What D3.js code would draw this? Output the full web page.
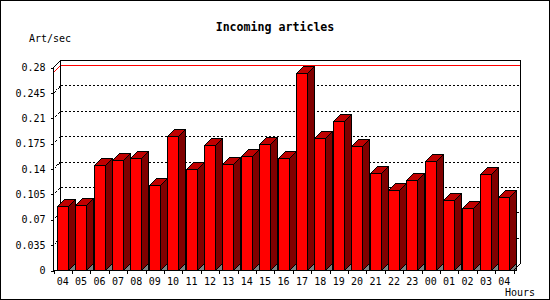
<!DOCTYPE html>
<html>
<head>
<meta charset="utf-8">
<script src="https://cdn.jsdelivr.net/npm/d3@7"></script>
<style>
  html, body { margin: 0; padding: 0; background: #fff; }
  svg { display: block; }
  text { font-family: "DejaVu Sans Mono", "Liberation Mono", monospace; }
</style>
</head>
<body>
<svg id="chart" width="550" height="300"></svg>
<script>
// ---- data ----
const hours = ["04","05","06","07","08","09","10","11","12","13","14","15","16","17","18","19","20","21","22","23","00","01","02","03","04"];
const values = [0.089,0.090,0.145,0.152,0.155,0.118,0.185,0.140,0.173,0.147,0.158,0.174,0.155,0.273,0.183,0.206,0.172,0.134,0.111,0.125,0.151,0.097,0.086,0.133,0.101];
const yTicks = [0,0.035,0.07,0.105,0.14,0.175,0.21,0.245,0.28];
const yTickLabels = ["0","0.035","0.07","0.105","0.14","0.175","0.21","0.245","0.28"];
const titleText = "Incoming articles";
const yTitle = "Art/sec";
const xTitle = "Hours";

// ---- layout ----
const W = 550, H = 300;
const DX = 7, DY = 7;
const svg = d3.select("#chart");

svg.append("rect").attr("x",0.5).attr("y",0.5).attr("width",W-1).attr("height",H-1)
  .attr("fill","#fff").attr("stroke","#000");

const x = d3.scaleBand().domain(d3.range(hours.length)).range([53.5, 513.5]);
const y = d3.scaleLinear().domain([0, 0.28]).range([270.5, 67.5]);
const bw = x.bandwidth();
const left = x.range()[0], right = x.range()[1];
const yTop = y(0.28), yZero = y(0);

const g = svg.append("g").attr("shape-rendering","crispEdges");

// gridlines on back wall (dotted)
const gridVals = yTicks.filter(v => v > 0 && v < 0.28);
g.selectAll("line.grid").data(gridVals).join("line")
  .attr("x1", left + DX).attr("x2", right + DX)
  .attr("y1", d => y(d) - DY).attr("y2", d => y(d) - DY)
  .attr("stroke","#000").attr("stroke-dasharray","2,2");
g.selectAll("line.gridd").data(gridVals).join("line")
  .attr("x1", left).attr("x2", left + DX)
  .attr("y1", d => y(d)).attr("y2", d => y(d) - DY)
  .attr("stroke","#000").attr("stroke-dasharray","1,1");

// max line (red)
const maxV = d3.max(values);
g.append("polyline")
  .attr("points", [[left, y(maxV)],[left+DX, y(maxV)-DY],[right+DX, y(maxV)-DY]].map(p=>p.join(",")).join(" "))
  .attr("fill","none").attr("stroke","#ff0000");

// back frame
g.append("polyline")
  .attr("points", [[left+DX, yZero-DY],[left+DX, yTop-DY],[right+DX, yTop-DY],[right+DX, yZero-DY]].map(p=>p.join(",")).join(" "))
  .attr("fill","none").attr("stroke","#000");

// bars
const bars = g.selectAll("g.bar").data(values).join("g");
bars.each(function(v, i) {
  const sel = d3.select(this);
  const x0 = Math.round(x(i) + bw*0.18) + 0.5;
  const x1 = x0 + Math.round(bw*0.6);
  const yt = Math.round(y(v)) + 0.5;
  // floor shadow
  sel.append("polygon")
    .attr("points", [[x1, yZero],[x1+DX, yZero-DY],[x1+DX, yZero]].map(p=>p.join(",")).join(" "))
    .attr("fill","#808080").attr("stroke","#000");
  // side
  sel.append("polygon")
    .attr("points", [[x1, yt],[x1+DX, yt-DY],[x1+DX, yZero-DY],[x1, yZero]].map(p=>p.join(",")).join(" "))
    .attr("fill","#800000").attr("stroke","#000");
  // top
  sel.append("polygon")
    .attr("points", [[x0, yt],[x0+DX, yt-DY],[x1+DX, yt-DY],[x1, yt]].map(p=>p.join(",")).join(" "))
    .attr("fill","#c00000").attr("stroke","#000");
  // front
  sel.append("rect").attr("x", x0).attr("y", yt).attr("width", x1-x0).attr("height", yZero-yt)
    .attr("fill","#ff0000").attr("stroke","#000");
});

// front axes
g.append("polyline")
  .attr("points", [[left+DX, yTop-DY],[left, yTop],[left, yZero],[right, yZero],[right+DX, yZero-DY]].map(p=>p.join(",")).join(" "))
  .attr("fill","none").attr("stroke","#000");

// y axis ticks + labels
const yAxis = d3.axisLeft(y).tickValues(yTicks).tickSize(3).tickPadding(5)
  .tickFormat((d,i) => yTickLabels[i]);
const ya = svg.append("g").attr("transform", `translate(${left},0)`).call(yAxis);
ya.select(".domain").remove();
ya.selectAll("text").attr("font-size","10px").attr("font-family","DejaVu Sans Mono").attr("fill","#000");
ya.selectAll("line").attr("shape-rendering","crispEdges");

// x axis: labels centered, ticks at band boundaries
const xAxis = d3.axisBottom(x).tickSize(0).tickPadding(7).tickFormat(i => hours[i]);
const xa = svg.append("g").attr("transform", `translate(0,${yZero})`).call(xAxis);
xa.select(".domain").remove();
xa.selectAll("text").attr("font-size","10px").attr("font-family","DejaVu Sans Mono").attr("fill","#000");
const bounds = d3.range(hours.length + 1).map(i => i < hours.length ? x(i) : right);
g.selectAll("line.xt").data(bounds).join("line")
  .attr("x1", d => Math.round(d)+0.5).attr("x2", d => Math.round(d)+0.5)
  .attr("y1", yZero).attr("y2", yZero + 3).attr("stroke","#000");

// titles
svg.append("text").attr("x", 275).attr("y", 31).attr("text-anchor","middle")
  .attr("font-size","11.6px").attr("font-weight","bold").text(titleText);
svg.append("text").attr("x", 29).attr("y", 42).attr("font-size","10px").text(yTitle);
svg.append("text").attr("x", 535).attr("y", 296).attr("text-anchor","end").attr("font-size","10px").text(xTitle);
</script>
</body>
</html>
